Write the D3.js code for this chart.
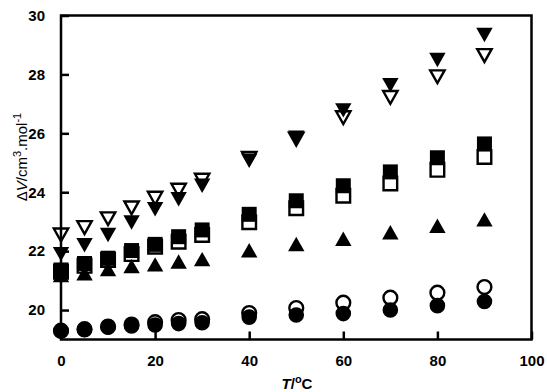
<!DOCTYPE html>
<html><head><meta charset="utf-8">
<script src="https://cdn.jsdelivr.net/npm/d3@7"></script>
<style>body{margin:0;background:#fff}svg{display:block}</style>
</head><body>
<svg id="chart" width="547" height="392"></svg>
<script>
// Temperatures (°C) at which each ΔV was measured
const temperature = [0, 5, 10, 15, 20, 25, 30, 40, 50, 60, 70, 80, 90];

// ΔV (cm3/mol), one array per series
const filledDown   = [21.90, 22.20, 22.55, 22.97, 23.42, 23.76, 24.22, 25.07, 25.85, 26.78, 27.63, 28.49, 29.34];
const openDown     = [22.55, 22.80, 23.10, 23.47, 23.80, 24.07, 24.41, 25.15, 25.80, 26.53, 27.22, 27.92, 28.64];
const filledSquare = [21.36, 21.58, 21.76, 22.02, 22.23, 22.49, 22.72, 23.25, 23.71, 24.22, 24.69, 25.17, 25.64];
const openSquare   = [21.30, 21.50, 21.70, 21.90, 22.15, 22.32, 22.55, 22.98, 23.46, 23.88, 24.30, 24.76, 25.20];
const filledUp     = [21.19, 21.25, 21.39, 21.49, 21.55, 21.65, 21.73, 22.03, 22.24, 22.42, 22.64, 22.86, 23.08];
const openCircle   = [19.30, 19.35, 19.44, 19.51, 19.59, 19.66, 19.69, 19.90, 20.07, 20.25, 20.42, 20.59, 20.78];
const filledCircle = [19.29, 19.33, 19.42, 19.46, 19.49, 19.54, 19.57, 19.76, 19.83, 19.88, 20.00, 20.15, 20.29];

const xTicks = [0, 20, 40, 60, 80, 100];
const yTicks = [20, 22, 24, 26, 28, 30];

// open markers first (white-filled), filled markers on top
const series = [
  { values: openDown,     shape: "down",   filled: false },
  { values: openSquare,   shape: "square", filled: false },
  { values: openCircle,   shape: "circle", filled: false },
  { values: filledDown,   shape: "down",   filled: true },
  { values: filledSquare, shape: "square", filled: true },
  { values: filledUp,     shape: "up",     filled: true },
  { values: filledCircle, shape: "circle", filled: true }
];

const svg = d3.select("#chart");
const plotLeft = 61, plotRight = 531.5, plotTop = 15.5, plotBottom = 339.5;

const x = d3.scaleLinear().domain([0, 100]).range([plotLeft, plotRight]);
const y = d3.scaleLinear().domain([19, 30]).range([plotBottom, plotTop]);

const font = "'Liberation Sans', Arial, sans-serif";

// marker outlines, centred on (0,0)
function markerPath(shape, filled) {
  const p = d3.path();
  if (shape === "square") {
    const h = filled ? 7.5 : 6.8;
    p.rect(-h, -h, 2 * h, 2 * h);
  } else if (shape === "circle") {
    const r = filled ? 7.8 : 6.9;
    p.arc(0, 0, r, 0, 2 * Math.PI);
  } else if (shape === "down") {
    const w = filled ? 8.2 : 7.2, hh = filled ? 7.2 : 6.4;
    p.moveTo(-w, -hh); p.lineTo(w, -hh); p.lineTo(0, hh); p.closePath();
  } else {
    const w = 8.2, hh = 7.2;
    p.moveTo(-w, hh); p.lineTo(w, hh); p.lineTo(0, -hh); p.closePath();
  }
  return p.toString();
}

// data markers
series.forEach(s => {
  svg.append("g")
    .selectAll("path")
    .data(temperature.map((t, i) => [t, s.values[i]]))
    .join("path")
    .attr("transform", d => `translate(${x(d[0])},${y(d[1])})`)
    .attr("d", markerPath(s.shape, s.filled))
    .attr("fill", s.filled ? "#000" : "#fff")
    .attr("stroke", s.filled ? "none" : "#000")
    .attr("stroke-width", s.filled ? 0 : 2.4);
});

// axes with inward ticks
const xAxis = svg.append("g")
  .attr("transform", `translate(0,${plotBottom})`)
  .call(d3.axisBottom(x).tickValues(xTicks).tickSizeInner(-8).tickSizeOuter(0).tickPadding(16));
const yAxis = svg.append("g")
  .attr("transform", `translate(${plotLeft},0)`)
  .call(d3.axisLeft(y).tickValues(yTicks).tickSizeInner(-8).tickSizeOuter(0).tickPadding(16));

[xAxis, yAxis].forEach(g => {
  g.select(".domain").remove();
  g.selectAll(".tick line").attr("stroke", "#000").attr("stroke-width", 2.5);
  g.selectAll(".tick text")
    .attr("fill", "#000")
    .style("font-family", font)
    .style("font-size", "15px")
    .style("font-weight", "bold");
});

// plot frame
svg.append("rect")
  .attr("x", plotLeft).attr("y", plotTop)
  .attr("width", plotRight - plotLeft).attr("height", plotBottom - plotTop)
  .attr("fill", "none").attr("stroke", "#000").attr("stroke-width", 2.5);

// x-axis title
const xt = svg.append("text")
  .attr("x", 297).attr("y", 389)
  .attr("text-anchor", "middle")
  .style("font-family", font).style("font-size", "15px").style("font-weight", "bold");
xt.append("tspan").style("font-style", "italic").text("T");
xt.append("tspan").text("/");
xt.append("tspan").attr("dy", -6).style("font-size", "11px").text("o");
xt.append("tspan").attr("dy", 6).text("C");

// y-axis title
const yt = svg.append("text")
  .attr("transform", "translate(27,157) rotate(-90)")
  .attr("text-anchor", "middle")
  .style("font-family", font).style("font-size", "15px");
yt.append("tspan").text("Δ");
yt.append("tspan").style("font-style", "italic").text("V");
yt.append("tspan").text("/cm");
yt.append("tspan").attr("dy", -6).style("font-size", "11px").text("3");
yt.append("tspan").attr("dy", 6).text(".mol");
yt.append("tspan").attr("dy", -6).style("font-size", "11px").text("-1");
</script>
</body></html>
